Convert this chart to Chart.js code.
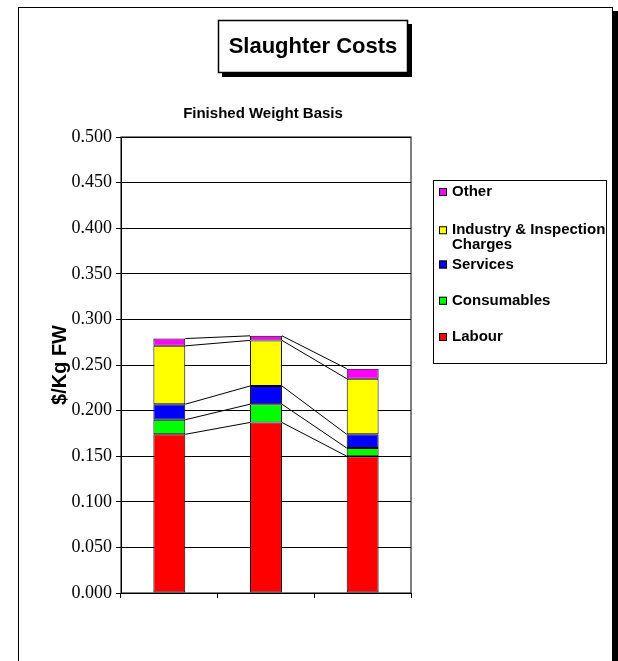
<!DOCTYPE html>
<html>
<head>
<meta charset="utf-8">
<title>Slaughter Costs</title>
<script src="https://cdn.jsdelivr.net/npm/chart.js@4.4.1/dist/chart.umd.min.js"></script>
<style>
  body { margin: 0; background: #fff; }
  #wrap { width: 618px; height: 661px; }
</style>
</head>
<body>
<div id="wrap"><canvas id="chart-slaughter" width="618" height="661"></canvas></div>
<script>
// data
var categories = ["", "", ""];
var labour = [0.174, 0.187, 0.150];
var consumables = [0.016, 0.020, 0.009];
var services = [0.017, 0.020, 0.015];
var industry = [0.064, 0.050, 0.061];
var other = [0.008, 0.005, 0.011];
var yTicks = [0, 0.05, 0.1, 0.15, 0.2, 0.25, 0.3, 0.35, 0.4, 0.45, 0.5];

var sans = "'Liberation Sans', Arial, sans-serif";
var serif = "'Liberation Serif', 'Times New Roman', serif";

function bar(label, values, color) {
  return {
    label: label,
    data: values,
    backgroundColor: color,
    borderColor: "#000",
    borderWidth: 1,
    borderSkipped: false,
    barPercentage: 0.33,
    categoryPercentage: 1
  };
}

// frame, title box, subtitle, plot border, series lines, legend
var decor = {
  id: "decor",
  beforeDraw: function(chart) {
    var c = chart.ctx;
    c.save();
    c.fillStyle = "#fff";
    c.fillRect(0, 0, chart.width, chart.height);
    c.fillStyle = "#000";
    c.fillRect(613, 11, 5, chart.height);
    c.strokeStyle = "#000";
    c.lineWidth = 1;
    c.strokeRect(18.5, 7.5, 594, chart.height + 10);

    // title box
    c.fillRect(222, 24, 190, 53);
    c.fillStyle = "#fff";
    c.fillRect(218, 20, 190, 53);
    c.lineWidth = 1.5;
    c.strokeRect(218.5, 20.5, 189, 52);
    c.fillStyle = "#000";
    c.font = "bold 22px " + sans;
    c.textAlign = "center";
    c.textBaseline = "middle";
    c.fillText("Slaughter Costs", 313, 47);

    c.font = "bold 15px " + sans;
    var a = chart.chartArea;
    c.fillText("Finished Weight Basis", (a.left + a.right) / 2 - 3, 114);
    c.restore();
  },
  afterDatasetsDraw: function(chart) {
    var c = chart.ctx;
    var a = chart.chartArea;
    c.save();
    c.strokeStyle = "#000";
    c.lineWidth = 1;
    c.strokeRect(a.left, a.top, a.right - a.left, a.bottom - a.top);

    chart.data.datasets.forEach(function(ds, d) {
      var pts = chart.getDatasetMeta(d).data;
      for (var i = 0; i < pts.length - 1; i++) {
        var p = pts[i], q = pts[i + 1];
        c.beginPath();
        c.moveTo(p.x + p.width / 2, p.y);
        c.lineTo(q.x - q.width / 2, q.y);
        c.stroke();
      }
    });

    // legend
    c.fillStyle = "#fff";
    c.fillRect(433, 180, 173, 183);
    c.strokeRect(433.5, 180.5, 173, 183);
    c.font = "bold 15px " + sans;
    c.textAlign = "left";
    c.textBaseline = "middle";
    var items = chart.data.datasets.slice().reverse();
    items.forEach(function(ds, i) {
      var words = ds.label.split(" ");
      var lines = [], cur = "";
      words.forEach(function(w) {
        var t = cur ? cur + " " + w : w;
        if (c.measureText(t).width > 156 && cur) { lines.push(cur); cur = w; }
        else cur = t;
      });
      lines.push(cur);
      var y = 192 + i * 36.25 + (lines.length > 1 ? 2 : 0);
      c.fillStyle = ds.backgroundColor;
      c.fillRect(439, y - 4, 8, 8);
      c.strokeRect(439.5, y - 3.5, 7, 7);
      c.fillStyle = "#000";
      lines.forEach(function(l, k) {
        c.fillText(l, 452, y + k * 15);
      });
    });
    c.restore();
  }
};

var ctx = document.getElementById("chart-slaughter").getContext("2d");
var chart = new Chart(ctx, {
  type: "bar",
  data: {
    labels: categories,
    datasets: [
      bar("Labour", labour, "#FF0000"),
      bar("Consumables", consumables, "#00FF00"),
      bar("Services", services, "#0000FF"),
      bar("Industry & Inspection Charges", industry, "#FFFF00"),
      bar("Other", other, "#FF00FF")
    ]
  },
  options: {
    responsive: false,
    animation: false,
    layout: { padding: { left: 0, top: 137, right: 207, bottom: 60 } },
    plugins: {
      legend: { display: false },
      tooltip: { enabled: false }
    },
    scales: {
      x: {
        stacked: true,
        grid: { offset: true, drawOnChartArea: false, drawTicks: true, tickLength: 5, color: "#000" },
        border: { color: "#000" },
        ticks: { display: false },
        afterFit: function(s) { s.height = 8; }
      },
      y: {
        stacked: true,
        min: 0,
        max: 0.5,
        afterBuildTicks: function(s) {
          s.ticks = yTicks.map(function(v) { return { value: v }; });
        },
        grid: { color: "#000", tickLength: 5 },
        border: { color: "#000" },
        ticks: {
          color: "#000",
          padding: 4,
          font: { family: serif, size: 18 },
          callback: function(v) { return Number(v).toFixed(3); }
        },
        title: {
          display: true,
          text: "$/Kg FW",
          color: "#000",
          font: { family: sans, size: 20, weight: "bold" },
          padding: { top: 48, bottom: 0 }
        },
        afterFit: function(s) { s.width = 121; }
      }
    }
  },
  plugins: [decor]
});
</script>
</body>
</html>
